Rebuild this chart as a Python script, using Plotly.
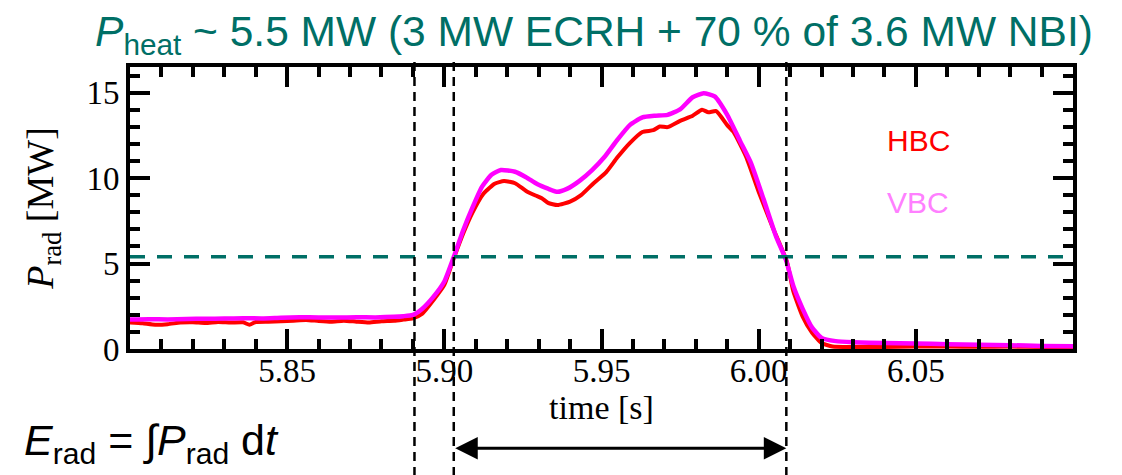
import plotly.graph_objects as go

# ---------------- data ----------------
hbc_t = [5.800, 5.804, 5.808, 5.812, 5.816, 5.820, 5.824, 5.828, 5.832, 5.836,
         5.838, 5.840, 5.844, 5.848, 5.852, 5.856, 5.860, 5.864, 5.868, 5.872,
         5.876, 5.880, 5.884, 5.887, 5.890, 5.893, 5.8965, 5.900, 5.903, 5.906,
         5.909, 5.9125, 5.916, 5.919, 5.9225, 5.926, 5.929, 5.931, 5.933, 5.936,
         5.940, 5.9435, 5.9475, 5.9515, 5.955, 5.959, 5.963, 5.9665, 5.9685, 5.971,
         5.975, 5.979, 5.982, 5.984, 5.9865, 5.990, 5.992, 5.996, 6.000, 6.0045,
         6.009, 6.011, 6.014, 6.017, 6.020, 6.0235, 6.030, 6.040, 6.050, 6.060,
         6.070, 6.080, 6.090, 6.100]
hbc_p = [1.55, 1.50, 1.42, 1.45, 1.55, 1.57, 1.52, 1.58, 1.55, 1.56,
         1.42, 1.58, 1.60, 1.62, 1.66, 1.70, 1.64, 1.60, 1.66, 1.60,
         1.55, 1.62, 1.65, 1.72, 1.80, 2.07, 2.85, 3.75, 5.30, 6.76,
         8.00, 9.10, 9.67, 9.83, 9.70, 9.25, 8.98, 8.82, 8.55, 8.42,
         8.62, 9.00, 9.70, 10.35, 11.20, 12.05, 12.70, 12.80, 13.02, 12.98,
         13.35, 13.65, 14.00, 13.85, 13.92, 13.10, 12.70, 11.25, 9.20, 7.10,
         5.10, 3.40, 1.90, 0.95, 0.35, 0.15, 0.12, 0.12, 0.15, 0.14,
         0.13, 0.14, 0.12, 0.12]

vbc_t = [5.800, 5.806, 5.812, 5.818, 5.824, 5.830, 5.836, 5.842, 5.848, 5.854,
         5.860, 5.866, 5.872, 5.878, 5.884, 5.887, 5.890, 5.893, 5.8965, 5.900,
         5.903, 5.906, 5.909, 5.912, 5.915, 5.918, 5.9225, 5.926, 5.9295, 5.933,
         5.936, 5.939, 5.943, 5.947, 5.951, 5.955, 5.959, 5.963, 5.967, 5.971,
         5.975, 5.979, 5.9825, 5.986, 5.990, 5.994, 5.9975, 6.0015, 6.0055, 6.0087,
         6.011, 6.014, 6.017, 6.020, 6.0245, 6.030, 6.040, 6.050, 6.060, 6.070,
         6.080, 6.090, 6.100]
vbc_p = [1.72, 1.74, 1.73, 1.76, 1.77, 1.78, 1.80, 1.79, 1.83, 1.86,
         1.85, 1.84, 1.86, 1.85, 1.88, 1.92, 2.00, 2.36, 3.05, 3.95,
         5.38, 6.95, 8.30, 9.50, 10.20, 10.47, 10.37, 10.05, 9.65, 9.38,
         9.20, 9.37, 9.84, 10.47, 11.25, 12.23, 13.10, 13.55, 13.65, 13.70,
         14.02, 14.73, 14.96, 14.78, 13.70, 12.20, 10.90, 8.80, 6.60, 5.20,
         3.70, 2.35, 1.25, 0.65, 0.46, 0.40, 0.35, 0.32, 0.28, 0.25,
         0.22, 0.18, 0.16]

x_tickvals = [5.85, 5.90, 5.95, 6.00, 6.05]
x_ticktext = ["5.85", "5.90", "5.95", "6.00", "6.05"]
y_tickvals = [0, 5, 10, 15]
y_ticktext = ["0", "5", "10", "15"]

marker_times = [5.8905, 5.9030, 6.0088]   # vertical dashed lines
interval = [5.9030, 6.0088]               # E_rad integration window
p_heat = 5.4                              # heating power level [MW]

TEAL = "#006f66"
SERIF = "Liberation Serif"
SANS = "Liberation Sans"

fig = go.Figure()
fig.add_trace(go.Scatter(x=hbc_t, y=hbc_p, mode="lines", name="HBC",
                         line=dict(color="#ff0000", width=4, shape="spline", smoothing=0.5)))
fig.add_trace(go.Scatter(x=vbc_t, y=vbc_p, mode="lines", name="VBC",
                         line=dict(color="#ff00ff", width=4.5, shape="spline", smoothing=0.5)))

# horizontal P_heat line
fig.add_shape(type="line", xref="paper", x0=0, x1=1, yref="y", y0=p_heat, y1=p_heat,
              line=dict(color=TEAL, width=3.5, dash="15px,12px"), layer="above")
# vertical dashed markers
for t in marker_times:
    fig.add_shape(type="line", xref="x", x0=t, x1=t, yref="paper", y0=-0.45, y1=1.02,
                  line=dict(color="black", width=2.5, dash="9px,6px"), layer="above")

# double arrow
fig.add_annotation(x=interval[1], y=-0.352, xref="x", yref="paper",
                   ax=interval[0], ay=0, axref="x", ayref="pixel",
                   text="", showarrow=True, arrowhead=2, arrowside="end+start",
                   arrowsize=1.5, arrowwidth=3, arrowcolor="black",
                   standoff=0, startstandoff=0)

# labels
fig.add_annotation(x=6.0507, y=12.2, xref="x", yref="y", text="HBC", showarrow=False,
                   font=dict(family=SANS, size=30, color="#ff0000"))
fig.add_annotation(x=6.0507, y=8.6, xref="x", yref="y", text="VBC", showarrow=False,
                   font=dict(family=SANS, size=30, color="#ff80ff"))
fig.add_annotation(x=-0.1145, y=-0.335, xref="paper", yref="paper", xanchor="left",
                   yanchor="middle", showarrow=False,
                   text="<i>E</i><sub>rad</sub> = \u222b<i>P</i><sub>rad</sub> d<i>t</i>",
                   font=dict(family=SANS, size=43, color="black"))

axis_common = dict(showline=True, linewidth=4, linecolor="black", mirror="allticks",
                   ticks="inside", ticklen=20, tickwidth=4, tickcolor="black",
                   showgrid=False, zeroline=False,
                   tickfont=dict(family=SERIF, size=33, color="black"))

fig.update_xaxes(range=[5.80, 6.10], tickmode="array", tickvals=x_tickvals, ticktext=x_ticktext,
                 ticklabelstandoff=-11,
                 minor=dict(tickmode="linear", tick0=5.80, dtick=0.01, ticks="inside",
                            ticklen=10, tickwidth=4, tickcolor="black"),
                 title=dict(text="time [s]", font=dict(family=SERIF, size=34, color="black"),
                            standoff=0),
                 **axis_common)
fig.update_yaxes(range=[0, 16.5], tickmode="array", tickvals=y_tickvals, ticktext=y_ticktext,
                 minor=dict(tickmode="linear", tick0=0, dtick=1, ticks="inside",
                            ticklen=10, tickwidth=4, tickcolor="black"),
                 title=dict(text="<i>P</i><sub>rad</sub> [MW]",
                            font=dict(family=SERIF, size=38, color="black"), standoff=22),
                 **axis_common)

fig.update_layout(
    width=1122, height=475,
    margin=dict(l=130, r=49, t=67, b=126),
    paper_bgcolor="white", plot_bgcolor="white",
    showlegend=False,
    title=dict(text="<i>P</i><sub>heat</sub> ~ 5.5 MW (3 MW ECRH + 70 % of 3.6 MW NBI)",
               font=dict(family=SANS, size=42.5, color=TEAL),
               x=0.492, xref="paper", xanchor="center", y=0.935, yref="container", yanchor="middle"),
)

fig.write_html("out.html")
